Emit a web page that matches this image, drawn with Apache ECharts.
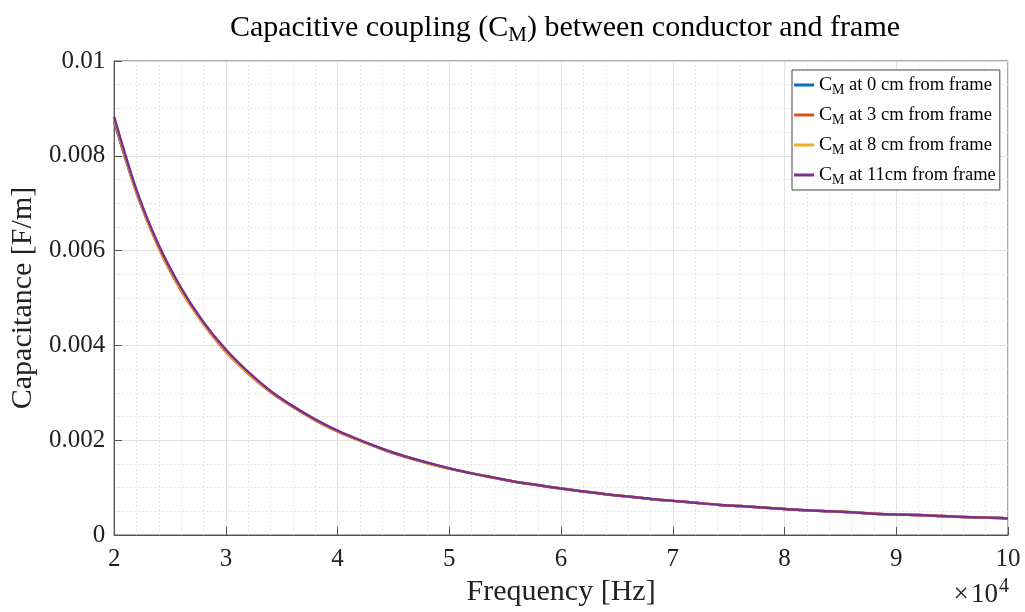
<!DOCTYPE html>
<html>
<head>
<meta charset="utf-8">
<script src="https://cdn.jsdelivr.net/npm/echarts@6/dist/echarts.min.js"></script>
<style>html,body{margin:0;padding:0;background:#fff}#c{width:1025px;height:612px}</style>
</head>
<body>
<div id="c"></div>
<script>
// Frequency in units of 10^4 Hz
const freq = [2.0,2.2,2.4,2.6,2.8,3.0,3.2,3.4,3.6,3.8,4.0,4.2,4.4,4.6,4.8,5.0,5.2,5.4,5.6,5.8,6.0,6.2,6.4,6.6,6.8,7.0,7.2,7.4,7.6,7.8,8.0,8.2,8.4,8.6,8.8,9.0,9.2,9.4,9.6,9.8,10.0];
const cm0  = [0.00872,0.00722,0.00607,0.00518,0.00447,0.00389,0.00342,0.00303,0.00271,0.00243,0.00219,0.00199,0.00181,0.00166,0.00152,0.00140,0.00130,0.00121,0.00112,0.00105,0.00098,0.00092,0.00086,0.00081,0.00076,0.00072,0.00068,0.00064,0.00061,0.00058,0.00055,0.00052,0.00050,0.00048,0.00045,0.00043,0.00042,0.00040,0.00038,0.00037,0.00035];
const cm3  = [0.00876,0.00723,0.00605,0.00515,0.00445,0.00386,0.00340,0.00301,0.00270,0.00242,0.00218,0.00199,0.00181,0.00165,0.00152,0.00140,0.00130,0.00120,0.00112,0.00105,0.00098,0.00092,0.00086,0.00081,0.00076,0.00072,0.00068,0.00064,0.00061,0.00058,0.00055,0.00052,0.00050,0.00048,0.00045,0.00043,0.00042,0.00040,0.00038,0.00037,0.00035];
const cm8  = [0.00878,0.00724,0.00607,0.00517,0.00446,0.00388,0.00341,0.00302,0.00271,0.00243,0.00219,0.00199,0.00181,0.00166,0.00152,0.00140,0.00130,0.00121,0.00112,0.00105,0.00098,0.00092,0.00086,0.00081,0.00076,0.00072,0.00068,0.00064,0.00061,0.00058,0.00055,0.00052,0.00050,0.00048,0.00045,0.00043,0.00042,0.00040,0.00038,0.00037,0.00035];
const cm11 = [0.00882,0.00728,0.00611,0.00521,0.00449,0.00391,0.00344,0.00304,0.00272,0.00244,0.00220,0.00200,0.00182,0.00166,0.00153,0.00141,0.00130,0.00121,0.00112,0.00105,0.00098,0.00092,0.00086,0.00081,0.00076,0.00072,0.00068,0.00064,0.00061,0.00058,0.00055,0.00052,0.00050,0.00048,0.00045,0.00043,0.00042,0.00040,0.00038,0.00037,0.00035];
const seriesNames = ['0 cm','3 cm','8 cm','11cm'];
const legendLabels = [' at 0 cm from frame',' at 3 cm from frame',' at 8 cm from frame',' at 11cm from frame'];
const colors = ['#0072BD','#D95319','#EDB120','#7E2F8E'];
const allData = [cm0, cm3, cm8, cm11];

const FONT = '"Liberation Serif","Times New Roman",serif';
const chart = echarts.init(document.getElementById('c'), null, {renderer:'canvas'});

const series = allData.map((d, i) => ({
  name: seriesNames[i],
  type: 'line',
  data: freq.map((f, k) => [f, d[k]]),
  symbol: 'none',
  smooth: 0.3,
  lineStyle: {width: 2.5, color: colors[i]},
  itemStyle: {color: colors[i]},
  z: 3 + i
}));

chart.setOption({
  animation: false,
  backgroundColor: '#fff',
  title: {
    text: '{n|Capacitive coupling (C}{s|M}{n|) between conductor and frame}',
    left: 560, textAlign: 'center', top: 5,
    textStyle: {
      fontWeight: 'normal',
      rich: {
        n: {fontFamily: FONT, fontSize: 30, fontWeight: 'normal', color: '#000', lineHeight: 36},
        s: {fontFamily: FONT, fontSize: 21, fontWeight: 'normal', color: '#000', padding: [14,0,0,0], lineHeight: 36}
      }
    }
  },
  grid: {left: 112, right: 17, top: 61, bottom: 77, show: true, borderColor: '#555', borderWidth: 1, backgroundColor: 'transparent'},
  legend: {
    orient: 'vertical', left: 792, top: 70,
    backgroundColor: '#fff', borderColor: '#444', borderWidth: 1,
    padding: [3, 4, 3, 2],
    itemWidth: 20, itemHeight: 3, itemGap: 6, icon: 'rect',
    data: seriesNames,
    formatter: function (name) {
      const i = seriesNames.indexOf(name);
      return '{c|C}{s|M}{t|' + legendLabels[i] + '}';
    },
    textStyle: {
      rich: {
        c: {fontFamily: FONT, fontSize: 19.5, color: '#000', lineHeight: 26.5},
        s: {fontFamily: FONT, fontSize: 14, color: '#000', padding: [10,0,0,0], lineHeight: 26.5},
        t: {fontFamily: FONT, fontSize: 18.5, color: '#000', lineHeight: 26.5}
      }
    }
  },
  xAxis: {
    type: 'value', min: 2, max: 10, interval: 1,
    name: 'Frequency [Hz]', nameLocation: 'middle', nameGap: 42,
    nameTextStyle: {fontFamily: FONT, fontSize: 30, color: '#222'},
    axisLine: {show: true, onZero: false, lineStyle: {color: '#555', width: 1}},
    axisTick: {show: true, inside: true, length: 8, lineStyle: {color: '#555'}},
    minorTick: {show: false, splitNumber: 5},
    axisLabel: {fontFamily: FONT, fontSize: 25, color: '#222', margin: 12},
    splitLine: {show: true, lineStyle: {color: '#e2e2e2', width: 1}},
    minorSplitLine: {show: true, lineStyle: {color: '#e4e4e4', type: [2,2], width: 1}}
  },
  yAxis: {
    type: 'value', min: 0, max: 0.01, interval: 0.002,
    name: 'Capacitance [F/m]', nameLocation: 'middle', nameGap: 70,
    nameTextStyle: {fontFamily: FONT, fontSize: 30, color: '#222'},
    axisLine: {show: true, onZero: false, lineStyle: {color: '#555', width: 1}},
    axisTick: {show: true, inside: true, length: 8, lineStyle: {color: '#555'}},
    minorTick: {show: false, splitNumber: 4},
    axisLabel: {fontFamily: FONT, fontSize: 25, color: '#222', margin: 9,
      formatter: v => (v === 0 ? '0' : (+v.toFixed(3)).toString())},
    splitLine: {show: true, lineStyle: {color: '#e2e2e2', width: 1}},
    minorSplitLine: {show: true, lineStyle: {color: '#e4e4e4', type: [2,2], width: 1}}
  },
  graphic: [{
    type: 'text', right: 16, bottom: 0,
    style: {
      text: '{m|×\u200a10}{p|4}',
      rich: {
        m: {fontFamily: FONT, fontSize: 27, fill: '#222', lineHeight: 34},
        p: {fontFamily: FONT, fontSize: 20, fill: '#222', padding: [0,0,15,1], lineHeight: 34}
      }
    }
  }],
  series: series
});
</script>
</body>
</html>
